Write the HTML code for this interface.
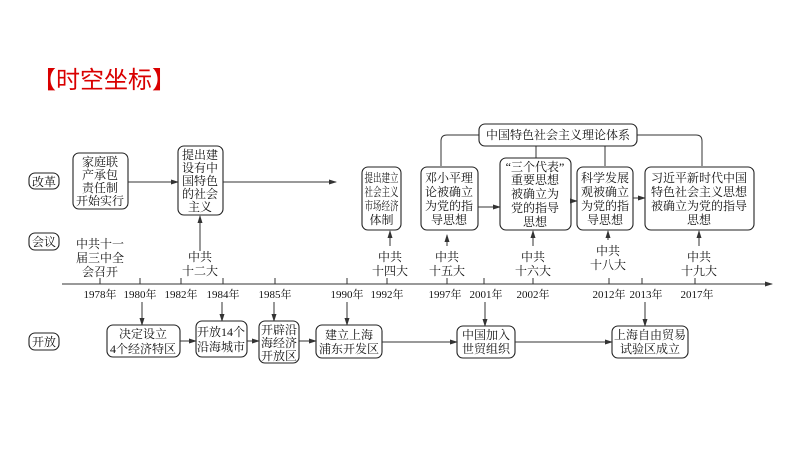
<!DOCTYPE html>
<html><head><meta charset="utf-8"><style>
body{margin:0;background:#fff;width:794px;height:447px;overflow:hidden}
svg text{font-family:"Liberation Serif","Noto Serif CJK SC","Noto Sans CJK SC",serif;font-size:12px;fill:#111}
svg text.y{font-size:11px}
.t{font-family:"Liberation Sans","Noto Sans CJK SC",sans-serif;font-size:24px;fill:#d90000}
.b{fill:#fff;stroke:#222;stroke-width:1.1}
.l{stroke:#333;stroke-width:1;fill:none}
</style></head><body>
<svg width="794" height="447" xmlns="http://www.w3.org/2000/svg">
<defs><marker id="a" markerWidth="8" markerHeight="6" refX="7" refY="3" orient="auto" markerUnits="userSpaceOnUse"><path d="M0,0.5 L8,3 L0,5.5z" fill="#333"/></marker></defs>
<text class="t" x="32" y="88">【时空坐标】</text>
<g text-anchor="middle">
<rect class="b" x="29" y="173" width="30" height="16" rx="6"/><text x="44" y="186">改革</text>
<rect class="b" x="29" y="233" width="30" height="17" rx="6"/><text x="44" y="246">会议</text>
<rect class="b" x="29" y="333" width="30" height="17" rx="6"/><text x="44" y="346">开放</text>
<rect class="b" x="73" y="153" width="55" height="56" rx="6"/>
<text x="100" y="166">家庭联</text><text x="100" y="179">产承包</text><text x="100" y="192">责任制</text><text x="100" y="205">开始实行</text>
<line class="l" x1="128" y1="182" x2="178" y2="182" marker-end="url(#a)"/>
<rect class="b" x="178" y="146" width="45" height="69" rx="6"/>
<text x="200" y="159">提出建</text><text x="200" y="172">设有中</text><text x="200" y="185">国特色</text><text x="200" y="198">的社会</text><text x="200" y="211">主义</text>
<line class="l" x1="223" y1="182" x2="336" y2="182" marker-end="url(#a)"/>
<text x="100" y="248">中共十一</text><text x="100" y="262">届三中全</text><text x="100" y="276">会召开</text>
<text x="200" y="261">中共</text><text x="200" y="275">十二大</text>
<line class="l" x1="200" y1="251" x2="200" y2="216" marker-end="url(#a)"/>
<path class="l" d="M441,166 V141 Q441,135 447,135 H479 M637,135 H696 Q702,135 702,141 V166 M536,146 V158 M605,146 V166"/>
<rect class="b" x="479" y="124" width="158" height="22" rx="6"/><text x="558" y="139">中国特色社会主义理论体系</text>
<rect class="b" x="362" y="167" width="39" height="63" rx="6"/>
<text x="381.5" y="182" textLength="34" lengthAdjust="spacingAndGlyphs">提出建立</text><text x="381.5" y="196" textLength="34" lengthAdjust="spacingAndGlyphs">社会主义</text><text x="381.5" y="210" textLength="34" lengthAdjust="spacingAndGlyphs">市场经济</text><text x="381.5" y="224">体制</text>
<rect class="b" x="421" y="167" width="57" height="63" rx="6"/>
<text x="449" y="182">邓小平理</text><text x="449" y="196">论被确立</text><text x="449" y="210">为党的指</text><text x="449" y="224">导思想</text>
<line class="l" x1="478" y1="207" x2="500" y2="207" marker-end="url(#a)"/>
<rect class="b" x="500" y="158" width="71" height="72" rx="6"/>
<text x="535" y="171">“三个代表”</text><text x="535" y="184">重要思想</text><text x="535" y="198">被确立为</text><text x="535" y="212">党的指导</text><text x="535" y="226">思想</text>
<line class="l" x1="571" y1="201" x2="577" y2="201" marker-end="url(#a)"/>
<rect class="b" x="577" y="167" width="56" height="63" rx="6"/>
<text x="605" y="182">科学发展</text><text x="605" y="196">观被确立</text><text x="605" y="210">为党的指</text><text x="605" y="224">导思想</text>
<line class="l" x1="633" y1="198" x2="645" y2="198" marker-end="url(#a)"/>
<rect class="b" x="645" y="167" width="109" height="63" rx="6"/>
<text x="699" y="182">习近平新时代中国</text><text x="699" y="196">特色社会主义思想</text><text x="699" y="210">被确立为党的指导</text><text x="699" y="224">思想</text>
<text x="390" y="261">中共</text><text x="390" y="275">十四大</text>
<text x="447" y="261">中共</text><text x="447" y="275">十五大</text>
<text x="533" y="261">中共</text><text x="533" y="275">十六大</text>
<text x="608" y="255">中共</text><text x="608" y="269">十八大</text>
<text x="699" y="261">中共</text><text x="699" y="275">十九大</text>
<line class="l" x1="390" y1="246" x2="390" y2="231" marker-end="url(#a)"/>
<line class="l" x1="447" y1="246" x2="447" y2="235" marker-end="url(#a)"/>
<line class="l" x1="533" y1="246" x2="533" y2="231" marker-end="url(#a)"/>
<line class="l" x1="608" y1="240" x2="608" y2="231" marker-end="url(#a)"/>
<line class="l" x1="699" y1="246" x2="699" y2="231" marker-end="url(#a)"/>
<line class="l" x1="62" y1="284" x2="772" y2="284" marker-end="url(#a)"/>
<path class="l" d="M100,278V284M140,278V284M181,278V284M223,278V284M275,278V284M347,278V284M387,278V284M447,278V284M484,278V284M533,278V284M609,278V284M642,278V284M695,278V284"/>
<text class="y" x="100" y="298">1978年</text><text class="y" x="140" y="298">1980年</text><text class="y" x="181" y="298">1982年</text><text class="y" x="223" y="298">1984年</text><text class="y" x="275" y="298">1985年</text><text class="y" x="347" y="298">1990年</text><text class="y" x="387" y="298">1992年</text><text class="y" x="445" y="298">1997年</text><text class="y" x="486" y="298">2001年</text><text class="y" x="533" y="298">2002年</text><text class="y" x="609" y="298">2012年</text><text class="y" x="646" y="298">2013年</text><text class="y" x="697" y="298">2017年</text>
<line class="l" x1="142" y1="302" x2="142" y2="325" marker-end="url(#a)"/>
<line class="l" x1="222" y1="302" x2="222" y2="321" marker-end="url(#a)"/>
<line class="l" x1="274" y1="302" x2="274" y2="321" marker-end="url(#a)"/>
<line class="l" x1="347" y1="302" x2="347" y2="325" marker-end="url(#a)"/>
<line class="l" x1="485" y1="302" x2="485" y2="326" marker-end="url(#a)"/>
<line class="l" x1="645" y1="302" x2="645" y2="326" marker-end="url(#a)"/>
<rect class="b" x="107" y="325" width="73" height="32" rx="6"/><text x="143" y="338">决定设立</text><text x="143" y="353">4个经济特区</text>
<rect class="b" x="196" y="321" width="51" height="36" rx="6"/><text x="221" y="336">开放14个</text><text x="221" y="351">沿海城市</text>
<rect class="b" x="259" y="321" width="40" height="42" rx="6"/><text x="279" y="334">开辟沿</text><text x="279" y="347">海经济</text><text x="279" y="360">开放区</text>
<rect class="b" x="316" y="325" width="66" height="33" rx="6"/><text x="349" y="339">建立上海</text><text x="349" y="353">浦东开发区</text>
<rect class="b" x="457" y="326" width="58" height="32" rx="6"/><text x="486" y="339">中国加入</text><text x="486" y="353">世贸组织</text>
<rect class="b" x="612" y="326" width="76" height="32" rx="6"/><text x="650" y="339">上海自由贸易</text><text x="650" y="353">试验区成立</text>
<line class="l" x1="180" y1="341" x2="196" y2="341" marker-end="url(#a)"/>
<line class="l" x1="247" y1="341" x2="259" y2="341" marker-end="url(#a)"/>
<line class="l" x1="299" y1="341" x2="316" y2="341" marker-end="url(#a)"/>
<line class="l" x1="382" y1="342" x2="457" y2="342" marker-end="url(#a)"/>
<line class="l" x1="515" y1="342" x2="612" y2="342" marker-end="url(#a)"/>
</g>
</svg>
</body></html>
